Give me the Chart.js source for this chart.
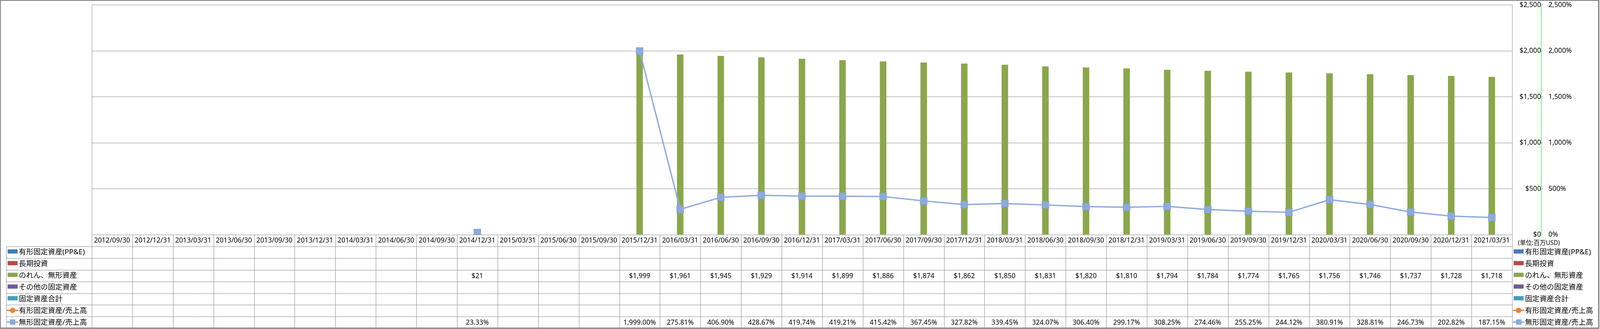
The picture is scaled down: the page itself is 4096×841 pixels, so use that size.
<!DOCTYPE html>
<html>
<head>
<meta charset="utf-8">
<script src="https://cdn.jsdelivr.net/npm/chart.js@4.4.1/dist/chart.umd.min.js"></script>
<style>
html, body { margin: 0; padding: 0; background: #fff; }
#wrap { width: 4096px; height: 841px; }
</style>
</head>
<body>
<div id="wrap"><canvas id="chart" width="4096" height="841"></canvas></div>
<script>
// 決算期
const dates = [
  "2012/09/30", "2012/12/31", "2013/03/31", "2013/06/30", "2013/09/30", "2013/12/31",
  "2014/03/31", "2014/06/30", "2014/09/30", "2014/12/31", "2015/03/31", "2015/06/30",
  "2015/09/30", "2015/12/31", "2016/03/31", "2016/06/30", "2016/09/30", "2016/12/31",
  "2017/03/31", "2017/06/30", "2017/09/30", "2017/12/31", "2018/03/31", "2018/06/30",
  "2018/09/30", "2018/12/31", "2019/03/31", "2019/06/30", "2019/09/30", "2019/12/31",
  "2020/03/31", "2020/06/30", "2020/09/30", "2020/12/31", "2021/03/31"
];

// 金額 (百万USD)
const ppe = [];
const longTermInvest = [];
const goodwill = [
  null, null, null, null, null, null, null, null, null, 21, null, null, null,
  1999, 1961, 1945, 1929, 1914, 1899, 1886, 1874, 1862, 1850, 1831, 1820,
  1810, 1794, 1784, 1774, 1765, 1756, 1746, 1737, 1728, 1718
];
const otherFixed = [];
const fixedTotal = [];

// 比率 (%)
const ppeRatio = [];
const intangibleRatio = [
  null, null, null, null, null, null, null, null, null, 23.33, null, null, null,
  1999.00, 275.81, 406.90, 428.67, 419.74, 419.21, 415.42, 367.45, 327.82, 339.45,
  324.07, 306.40, 299.17, 308.25, 274.46, 255.25, 244.12, 380.91, 328.81, 246.73,
  202.82, 187.15
];

const amountTicks = [0, 500, 1000, 1500, 2000, 2500];
const unitLabel = "(単位:百万USD)";

const S = 0.979;
const GRID = "#888888";
const FONT = "'Noto Sans', 'Noto Sans CJK JP', sans-serif";
const ROW_H = 30.55 * S;
const LEG_LEFT = 16.5 * S;

Chart.defaults.font.family = FONT;
Chart.defaults.color = "#000";

const fmtMoney = v => "$" + v.toLocaleString("en-US");
const fmtPct = v => v.toLocaleString("en-US", { minimumFractionDigits: 2, maximumFractionDigits: 2 }) + "%";

function crisp(v) { return Math.round(v) + 0.5; }

function drawSymbol(ctx, ds, x0, cy) {
  if (ds.type === "bar") {
    ctx.fillStyle = ds.backgroundColor;
    ctx.fillRect(x0 + 2, cy - 6.5, 26 * S, 11 * S);
    return;
  }
  const mid = x0 + 15 * S;
  ctx.strokeStyle = ds.borderColor;
  ctx.lineWidth = 3.4;
  ctx.beginPath();
  ctx.moveTo(x0, cy);
  ctx.lineTo(x0 + 30 * S, cy);
  ctx.stroke();
  ctx.fillStyle = ds.pointBackgroundColor;
  if (ds.pointStyle === "circle") {
    ctx.beginPath();
    ctx.arc(mid, cy, 7, 0, Math.PI * 2);
    ctx.fill();
  } else {
    ctx.fillRect(mid - 7, cy - 7, 14, 14);
  }
}

// 縦軸のラベル余白がプロット領域を押し下げないようにする
function fixAxis(width) {
  return scale => {
    scale.width = width;
    scale.paddingTop = 0;
    scale.paddingBottom = 0;
  };
}

const tablePlugin = {
  id: "dataTable",
  afterDraw(chart) {
    const ctx = chart.ctx;
    const area = chart.chartArea;
    const xs = chart.scales.x;
    const n = dates.length;
    const colW = (area.right - area.left) / n;
    const top = area.bottom;
    const sets = chart.data.datasets;
    const bottom = top + ROW_H * (sets.length + 1);

    ctx.save();
    ctx.strokeStyle = GRID;
    ctx.lineWidth = 1;
    ctx.beginPath();
    ctx.moveTo(area.left, crisp(top));
    ctx.lineTo(area.right, crisp(top));
    for (let k = 1; k <= sets.length + 1; k++) {
      const y = crisp(top + k * ROW_H);
      ctx.moveTo(crisp(LEG_LEFT), y);
      ctx.lineTo(area.right, y);
    }
    for (let i = 0; i <= n; i++) {
      const x = crisp(area.left + i * colW);
      ctx.moveTo(x, (i === 0 || i === n) ? area.top : top);
      ctx.lineTo(x, bottom);
    }
    ctx.moveTo(crisp(LEG_LEFT), top + ROW_H);
    ctx.lineTo(crisp(LEG_LEFT), bottom);
    ctx.stroke();

    // セルの値
    ctx.font = "17.4px " + FONT;
    ctx.fillStyle = "#000";
    ctx.textAlign = "center";
    ctx.textBaseline = "middle";
    sets.forEach((ds, r) => {
      const cy = top + (r + 1.5) * ROW_H;
      ds.data.forEach((v, i) => {
        if (v == null) return;
        ctx.fillText(ds.fmt(v), xs.getPixelForValue(i), cy + 1);
      });
    });

    // 凡例 (表の左と右)
    ctx.font = "18.6px " + FONT;
    ctx.textAlign = "left";
    sets.forEach((ds, r) => {
      const cy = top + (r + 1.5) * ROW_H;
      drawSymbol(ctx, ds, 17.6, cy - 1);
      ctx.fillStyle = "#000";
      ctx.fillText(ds.label, 48.3, cy);
      drawSymbol(ctx, ds, area.right + 2, cy - 1);
      ctx.fillStyle = "#000";
      ctx.fillText(ds.label, area.right + 33, cy);
    });

    ctx.font = "15.6px " + FONT;
    ctx.fillText(unitLabel, area.right + 15, 634.5 * S);

    // 外枠
    ctx.strokeStyle = "#868686";
    ctx.strokeRect(0.5, 0.5, 4180 * S, 857 * S - 0.5);
    ctx.restore();
  }
};

const barCommon = { type: "bar", yAxisID: "y", order: 1, fmt: fmtMoney };
const lineCommon = {
  type: "line", yAxisID: "y1", order: 0, fmt: fmtPct,
  borderWidth: 3.4, pointRadius: 12.3, pointHoverRadius: 12.3, pointBorderWidth: 1.5,
  spanGaps: false, tension: 0
};

new Chart(document.getElementById("chart"), {
  data: {
    labels: dates,
    datasets: [
      { ...barCommon, label: "有形固定資産(PP&E)", data: ppe, backgroundColor: "#4a7ab4" },
      { ...barCommon, label: "長期投資", data: longTermInvest, backgroundColor: "#b44a47" },
      { ...barCommon, label: "のれん、無形資産", data: goodwill, backgroundColor: "#8ba64f" },
      { ...barCommon, label: "その他の固定資産", data: otherFixed, backgroundColor: "#735a96" },
      { ...barCommon, label: "固定資産合計", data: fixedTotal, backgroundColor: "#449fb8" },
      { ...lineCommon, label: "有形固定資産/売上高", data: ppeRatio,
        borderColor: "#e6883a", pointBackgroundColor: "#e6883a", pointBorderColor: "#e6883a",
        pointStyle: "circle" },
      { ...lineCommon, label: "無形固定資産/売上高", data: intangibleRatio,
        borderColor: "#8eaadb", pointBackgroundColor: "#8eaadb", pointBorderColor: "#86a1d2",
        pointStyle: "rect" }
    ]
  },
  options: {
    responsive: false,
    animation: false,
    events: [],
    layout: { autoPadding: false, padding: { left: 235, top: 12.7, right: 1, bottom: 841 - 600 - 8 * ROW_H } },
    datasets: { bar: { barPercentage: 1, categoryPercentage: 0.8 } },
    plugins: { legend: { display: false }, tooltip: { enabled: false } },
    scales: {
      x: {
        grid: { display: false, drawTicks: false },
        border: { display: false },
        ticks: { autoSkip: false, maxRotation: 0, padding: 4.5, font: { size: 17.4, lineHeight: 1.2 } },
        afterFit(scale) { scale.height = 8 * ROW_H; }
      },
      y: {
        position: "right",
        weight: 0,
        min: 0, max: 2500,
        afterBuildTicks(scale) { scale.ticks = amountTicks.map(v => ({ value: v })); },
        grid: { color: GRID, drawTicks: false },
        border: { display: true, color: GRID },
        ticks: { crossAlign: "far", padding: 17, font: { size: 17.6 }, callback: v => fmtMoney(v) },
        afterFit: fixAxis(74)
      },
      y1: {
        position: "right",
        weight: 1,
        min: 0, max: 2500,
        afterBuildTicks(scale) { scale.ticks = amountTicks.map(v => ({ value: v })); },
        grid: { drawOnChartArea: false, drawTicks: true, tickLength: 4, color: "#00dd00" },
        border: { display: true, color: "#00dd00", dash: [3, 3] },
        ticks: { padding: 15, font: { size: 17.6 }, callback: v => v.toLocaleString("en-US") + "%" },
        afterFit: fixAxis(150)
      }
    }
  },
  plugins: [tablePlugin]
});
</script>
</body>
</html>
